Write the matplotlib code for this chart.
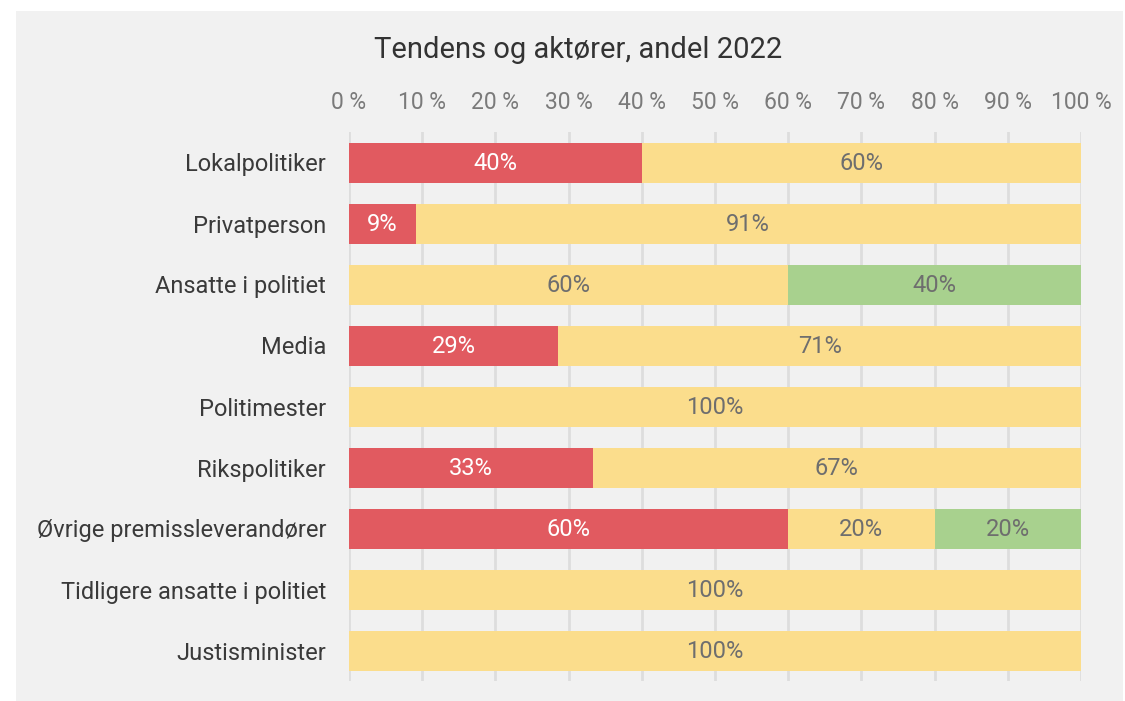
import matplotlib
matplotlib.use("Agg")
import matplotlib.pyplot as plt
from matplotlib.patches import Rectangle
import numpy as np

plt.rcParams['font.family'] = ['Roboto', 'DejaVu Sans']

categories = ["Lokalpolitiker", "Privatperson", "Ansatte i politiet", "Media",
              "Politimester", "Rikspolitiker", "Øvrige premissleverandører",
              "Tidligere ansatte i politiet", "Justisminister"]
negative = [40, 9.1, 0, 28.6, 0, 33.3, 60, 0, 0]
neutral = [60, 90.9, 60, 71.4, 100, 66.7, 20, 100, 100]
positive = [0, 0, 40, 0, 0, 0, 20, 0, 0]
xticks = [0, 10, 20, 30, 40, 50, 60, 70, 80, 90, 100]
title = "Tendens og aktører, andel 2022"

W, H = 1125, 701
fig = plt.figure(figsize=(W / 100, H / 100), dpi=100)
fig.patch.set_facecolor("white")
fig.patches.append(Rectangle((16 / W, 0), (1123 - 16) / W, (H - 11) / H,
                             transform=fig.transFigure, facecolor="#f1f1f1",
                             edgecolor="none", zorder=-10))

left, right = 349, 1081
top, bottom = 132, 681
ax = fig.add_axes([left / W, 1 - bottom / H, (right - left) / W, (bottom - top) / H])
ax.set_facecolor("none")
ax.set_zorder(5)

y = np.arange(len(categories))
h = 40 / 61
series = [(negative, "#e15a60", "white"),
          (neutral, "#fbdd8c", "#6e6e6e"),
          (positive, "#a8d18e", "#6e6e6e")]
start = np.zeros(len(categories))
for vals, col, tcol in series:
    vals = np.array(vals, dtype=float)
    ax.barh(y, vals, left=start, height=h, color=col, edgecolor="none", zorder=3)
    for i, v in enumerate(vals):
        if v > 0:
            ax.text(start[i] + v / 2, y[i] + 0.02, f"{v:.0f}%", ha="center", va="center",
                    color=tcol, fontsize=17, zorder=4)
    start += vals

ax.set_xlim(0, 100)
ax.set_ylim(len(categories) - 0.5, -0.5)
ax.set_xticks(xticks)
ax.set_xticklabels([f"{t} %" for t in xticks])
ax.xaxis.tick_top()
ax.tick_params(axis="x", length=0, pad=13, labelsize=16.5, labelcolor="#7a7a7a")
ax.set_yticks(y)
ax.set_yticklabels(categories)
ax.tick_params(axis="y", length=0, pad=16.5, labelsize=17, labelcolor="#3a3a3a")
ax.grid(axis="x", color="#dddddd", linewidth=2, zorder=1)
ax.grid(axis="y", visible=False)
for s in ax.spines.values():
    s.set_visible(False)

fig.text(578 / W, 1 - 50 / H, title, ha="center", va="center", fontsize=21, color="#333333")

fig.savefig("out.png", dpi=100, facecolor=fig.get_facecolor())
